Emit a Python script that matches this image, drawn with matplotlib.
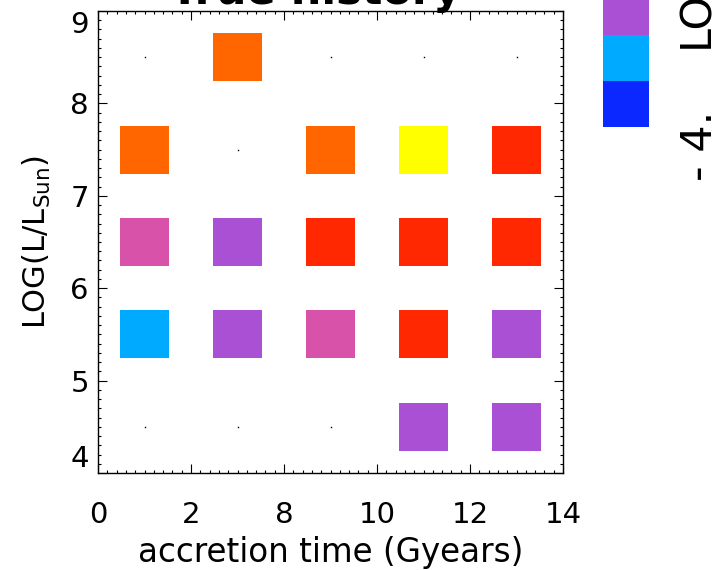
import numpy as np
import matplotlib
matplotlib.use("Agg")
import matplotlib.pyplot as plt
from matplotlib.colors import ListedColormap, BoundaryNorm

# ── Data ─────────────────────────────────────────────────────────────
time_edges = ["0", "2", "8", "10", "12", "14"]      # accretion-time bin edges (Gyr)
lum_ticks  = [4, 5, 6, 7, 8, 9]
lum_rows   = [8.5, 7.5, 6.5, 5.5, 4.5]              # LOG(L/Lsun) bin centres
# colour level per (luminosity row, time bin); nan = empty bin
levels = np.array([
    [np.nan,  1,      np.nan, np.nan, np.nan],
    [ 1,      np.nan,  1,      2,      0    ],
    [-1,     -2,       0,      0,      0    ],
    [-3,     -2,      -1,      0,     -2    ],
    [np.nan, np.nan,  np.nan, -2,     -2    ],
])
level_values = [-4, -3, -2, -1, 0, 1, 2]
level_colors = ["#0A28FF", "#00AAFF", "#AA50D5", "#D952AA",
                "#FF2800", "#FF6600", "#FFFF00"]

cmap = ListedColormap(level_colors)
bounds = np.arange(len(level_values) + 1) + level_values[0] - 0.5
norm = BoundaryNorm(bounds, cmap.N)

W, H = 717, 570
fig = plt.figure(figsize=(W / 100, H / 100), dpi=100)
plt.rcParams["font.family"] = "DejaVu Sans"

ax = fig.add_axes([98 / W, 1 - 473 / H, 465 / W, 462 / H])

box_w, box_h = 0.52, 0.52
for i, y in enumerate(lum_rows):
    for j in range(len(time_edges) - 1):
        v = levels[i, j]
        xc = j + 0.5
        if np.isnan(v):
            ax.plot(xc, y, "s", color="black", markersize=1.0, mew=0)
        else:
            ax.bar(xc, box_h, bottom=y - box_h / 2, width=box_w,
                   color=cmap(norm(v)), linewidth=0)

ax.set_xlim(0, len(time_edges) - 1)
ax.set_ylim(lum_ticks[0], lum_ticks[-1])
ax.set_xticks(range(len(time_edges)))
ax.set_xticklabels(time_edges)
ax.set_xticks(np.arange(0, 5.001, 0.1), minor=True)
ax.set_yticks(lum_ticks)
ax.set_yticks(np.arange(4, 9.001, 0.1), minor=True)

ax.tick_params(which="both", direction="in", top=True, right=True, width=0.8)
ax.tick_params(which="major", length=6.5)
ax.tick_params(which="minor", length=2.5)
ax.tick_params(axis="x", which="major", labelsize=21, pad=20)
ax.tick_params(axis="y", which="major", labelsize=21, pad=6.5)
for s in ax.spines.values():
    s.set_linewidth(1.0)

# end labels sit inside the axis range
ylabels = ax.get_yticklabels()
ylabels[0].set_va("bottom")
ylabels[-1].set_va("top")

ax.set_xlabel("accretion time (Gyears)", fontsize=23.5, va="top")
ax.xaxis.set_label_coords(0.5, -0.136)
ax.set_ylabel(r"LOG(L/L$_{\rm Sun}$)", fontsize=22)
ax.yaxis.set_label_coords(-0.096, 0.5)

fig.text(316 / W, 1 - 4 / H, "True history", fontsize=31, fontweight="bold",
         ha="center", va="baseline")

# ── Colour bar ───────────────────────────────────────────────────────
cax = fig.add_axes([603 / W, 1 - 127 / H, 46 / W, 46 * len(level_values) / H])
cax.pcolormesh([0, 1], bounds, np.array(level_values)[:, None],
               cmap=cmap, norm=norm)
cax.set_ylim(bounds[0], bounds[-1])
cax.axis("off")

fig.text(721 / W, 1 - 52 / H, "LOG(mass fraction)", fontsize=31,
         rotation=90, ha="right", va="bottom")
fig.text(721 / W, 1 - 181 / H, "- 4.", fontsize=31,
         rotation=90, ha="right", va="bottom")

fig.savefig("out.png", dpi=100)
